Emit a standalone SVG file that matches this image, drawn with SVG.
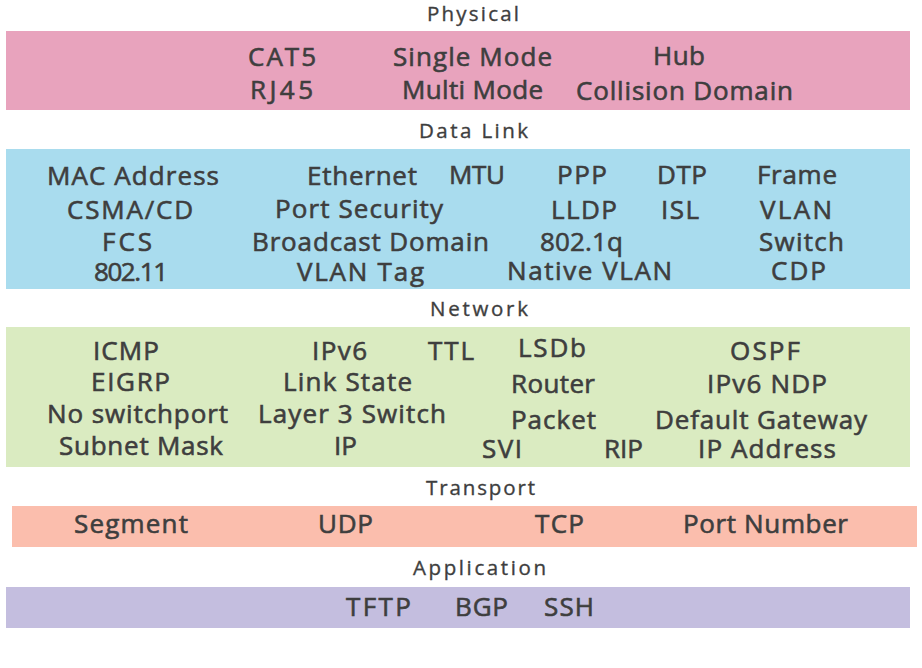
<svg xmlns="http://www.w3.org/2000/svg" width="922" height="668" viewBox="0 0 922 668">
<style>
text{font-family:"Open Sans","Noto Sans","Liberation Sans",sans-serif;fill:#3e3e3e;stroke:#3e3e3e;font-weight:400}
.t{font-size:20.5px;stroke-width:0.35}
.b{font-size:26px;stroke-width:0.6}
</style>
<rect width="922" height="668" fill="#ffffff"/>
<g id="physical">
<text class="t" x="427" y="21" textLength="92">Physical</text>
<rect x="6" y="31" width="904" height="79" fill="#e8a3bd"/>
<text class="b" x="248" y="66" textLength="68">CAT5</text>
<text class="b" x="393" y="66" textLength="159">Single Mode</text>
<text class="b" x="653" y="65" textLength="52">Hub</text>
<text class="b" x="250" y="99" textLength="63">RJ45</text>
<text class="b" x="402" y="99" textLength="141">Multi Mode</text>
<text class="b" x="576" y="100" textLength="217">Collision Domain</text>
</g>
<g id="datalink">
<text class="t" x="419" y="138" textLength="109">Data Link</text>
<rect x="6" y="149" width="904" height="140" fill="#a9dcee"/>
<text class="b" x="47" y="185" textLength="172">MAC Address</text>
<text class="b" x="307" y="185" textLength="110">Ethernet</text>
<text class="b" x="449" y="184" textLength="56">MTU</text>
<text class="b" x="557" y="184" textLength="50">PPP</text>
<text class="b" x="657" y="184" textLength="50">DTP</text>
<text class="b" x="757" y="184" textLength="80">Frame</text>
<text class="b" x="67" y="219" textLength="126">CSMA/CD</text>
<text class="b" x="275" y="218" textLength="168">Port Security</text>
<text class="b" x="551" y="219" textLength="66">LLDP</text>
<text class="b" x="661" y="219" textLength="38">ISL</text>
<text class="b" x="760" y="219" textLength="72">VLAN</text>
<text class="b" x="102" y="251" textLength="50">FCS</text>
<text class="b" x="252" y="251" textLength="237">Broadcast Domain</text>
<text class="b" x="540" y="251" textLength="83">802.1q</text>
<text class="b" x="759" y="251" textLength="85">Switch</text>
<text class="b" x="94" y="281" textLength="74">802.11</text>
<text class="b" x="297" y="281" textLength="127">VLAN Tag</text>
<text class="b" x="507" y="280" textLength="165">Native VLAN</text>
<text class="b" x="771" y="280" textLength="55">CDP</text>
</g>
<g id="network">
<text class="t" x="430" y="316" textLength="98">Network</text>
<rect x="6" y="327" width="904" height="140" fill="#daebc1"/>
<text class="b" x="93" y="360" textLength="66">ICMP</text>
<text class="b" x="312" y="360" textLength="55">IPv6</text>
<text class="b" x="428" y="360" textLength="46">TTL</text>
<text class="b" x="518" y="357" textLength="68">LSDb</text>
<text class="b" x="730" y="360" textLength="70">OSPF</text>
<text class="b" x="91" y="391" textLength="79">EIGRP</text>
<text class="b" x="283" y="391" textLength="129">Link State</text>
<text class="b" x="511" y="393" textLength="84">Router</text>
<text class="b" x="707" y="393" textLength="120">IPv6 NDP</text>
<text class="b" x="47" y="423" textLength="181">No switchport</text>
<text class="b" x="258" y="423" textLength="188">Layer 3 Switch</text>
<text class="b" x="511" y="429" textLength="85">Packet</text>
<text class="b" x="655" y="429" textLength="212">Default Gateway</text>
<text class="b" x="59" y="455" textLength="164">Subnet Mask</text>
<text class="b" x="334" y="455" textLength="23">IP</text>
<text class="b" x="482" y="458" textLength="40">SVI</text>
<text class="b" x="604" y="458" textLength="39">RIP</text>
<text class="b" x="698" y="458" textLength="138">IP Address</text>
</g>
<g id="transport">
<text class="t" x="426" y="495" textLength="109">Transport</text>
<rect x="12" y="506" width="905" height="41" fill="#fbbead"/>
<text class="b" x="74" y="533" textLength="114">Segment</text>
<text class="b" x="318" y="533" textLength="55">UDP</text>
<text class="b" x="535" y="533" textLength="49">TCP</text>
<text class="b" x="683" y="533" textLength="165">Port Number</text>
</g>
<g id="application">
<text class="t" x="413" y="575" textLength="133">Application</text>
<rect x="6" y="587" width="904" height="41" fill="#c4bedf"/>
<text class="b" x="346" y="616" textLength="65">TFTP</text>
<text class="b" x="455" y="616" textLength="53">BGP</text>
<text class="b" x="544" y="616" textLength="50">SSH</text>
</g>
</svg>
